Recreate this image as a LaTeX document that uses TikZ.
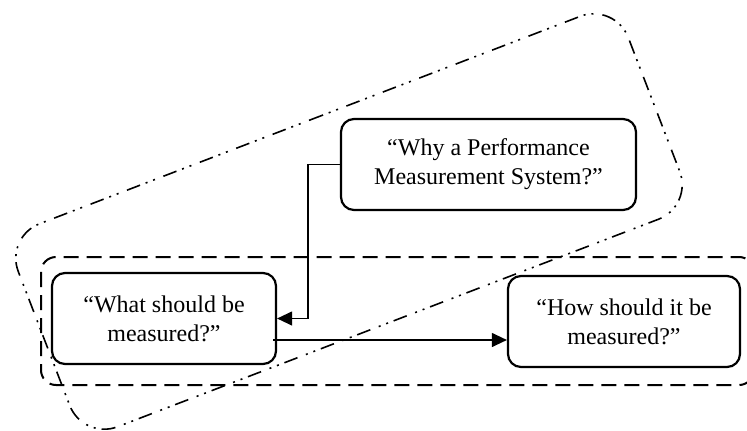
\documentclass[tikz,border=0pt]{standalone}
\usepackage{fontspec}
\setmainfont{Liberation Serif}
\usetikzlibrary{arrows.meta,calc}
\tikzset{
  qbox/.style={draw, line width=2.2pt, rounded corners=13pt, fill=white, align=center,
    font=\fontsize{24}{29}\selectfont, inner sep=0pt},
  conn/.style={line width=1.2pt, -{Triangle[length=15pt,width=14pt]}},
  grpdash/.style={line width=2pt, dash pattern=on 15pt off 8pt, rounded corners=15pt},
  grpdot/.style={line width=1.6pt, dash pattern=on 14pt off 6pt on 2pt off 6pt on 2pt off 9pt, rounded corners=37pt}
}
\begin{document}
\begin{tikzpicture}[x=1pt,y=-1pt]
\useasboundingbox (0,0) rectangle (747,431);
% groups
\coordinate (g1) at (5,237);
\coordinate (g2) at (615,3);
\coordinate (g3) at (693,206);
\coordinate (g4) at (83,440);
\draw[grpdot] ($(g1)!0.5!(g2)$) -- (g2) -- (g3) -- (g4) -- (g1) -- ($(g1)!0.5!(g2)$);
\draw[grpdash] (41,257) rectangle (754,385);
% boxes
\node[qbox, minimum width=295pt, minimum height=91pt] (why) at (488.5,164.5) {“Why a Performance\\Measurement System?”};
\node[qbox, minimum width=224pt, minimum height=91pt] (what) at (164,318.5) {“What should be\\measured?”};
\node[qbox, minimum width=232pt, minimum height=91pt] (how) at (624,321.5) {“How should it be\\measured?”};
% connectors
\coordinate (bend) at (308,318.5);
\draw[conn] (why.west) -| (bend) -- (what.east);
\coordinate (from) at (273,340);
\draw[conn] (from) -- (how.west |- from);
\end{tikzpicture}
\end{document}
